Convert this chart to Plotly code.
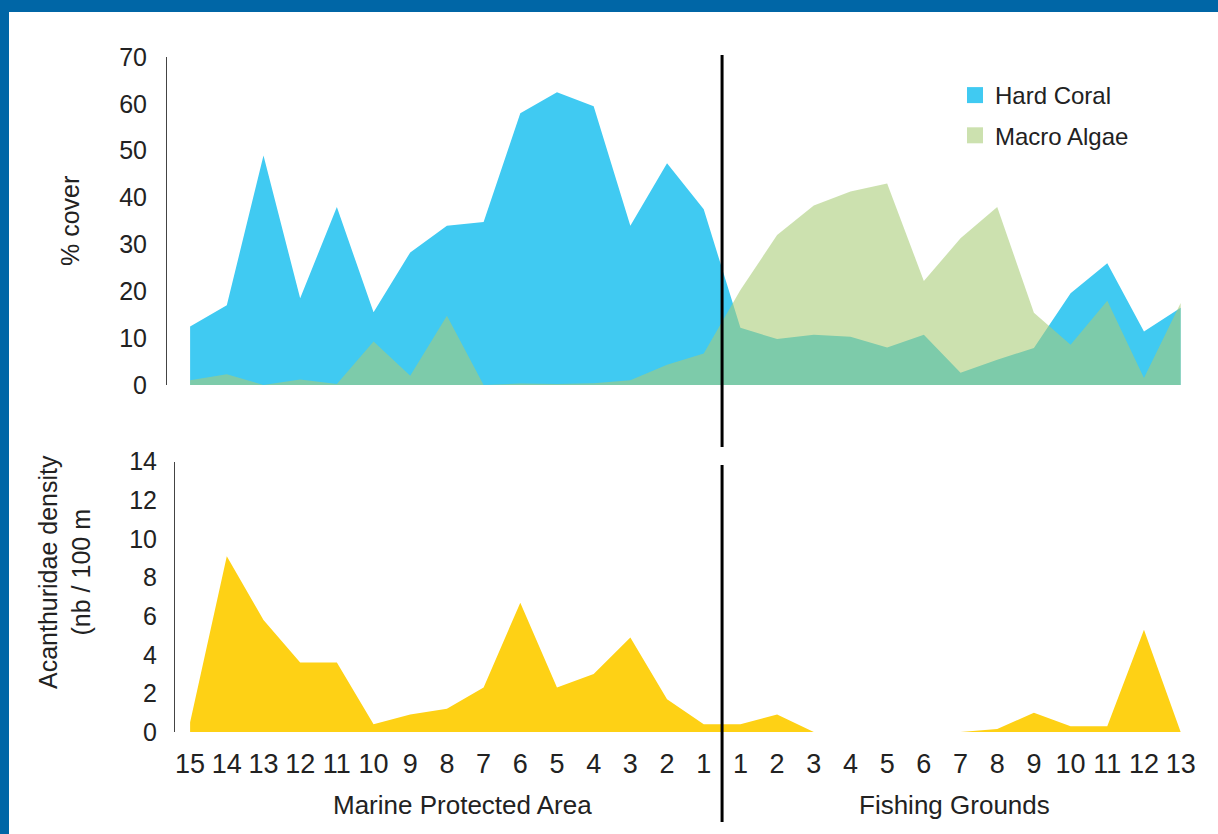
"""
Hard coral / macro algae cover and Acanthuridae density along the MPA -> fishing grounds transect
"""

import plotly.graph_objects as go

# sites: Marine Protected Area counted down to the boundary, then Fishing Grounds counted up
mpa_sites = ["15", "14", "13", "12", "11", "10", "9", "8", "7", "6", "5", "4", "3", "2", "1"]
fg_sites = ["1", "2", "3", "4", "5", "6", "7", "8", "9", "10", "11", "12", "13"]
site_labels = mpa_sites + fg_sites
site_pos = list(range(len(site_labels)))

hard_coral = [12.5, 17, 49, 18.5, 38, 15.5, 28.3, 34, 34.8, 58, 62.5, 59.5, 34, 47.3, 37.5,
              12.2, 9.8, 10.7, 10.3, 8, 10.7, 2.6, 5.4, 7.9, 19.6, 26, 11.4, 16.5]
macro_algae = [1, 2.3, 0, 1.2, 0.2, 9.3, 2, 14.8, 0, 0.3, 0.2, 0.4, 1, 4.3, 6.7,
               20.3, 32, 38.3, 41.3, 43, 22.2, 31.3, 38, 15.4, 8.6, 18, 1.5, 17.5]
acanthuridae = [0.5, 9.1, 5.8, 3.6, 3.6, 0.4, 0.9, 1.2, 2.3, 6.7, 2.3, 3.0, 4.9, 1.7, 0.4,
                0.4, 0.9, 0, 0, 0, 0, 0, 0.15, 1.0, 0.3, 0.3, 5.3, 0]

CORAL = "rgb(64,202,242)"
ALGAE = "rgba(168,204,119,0.59)"
ACANTH = "rgb(254,209,21)"
FRAME = "#0066a6"
FONT = "Liberation Sans, Arial, sans-serif"

W, H = 1218, 834
L, R, T, B = 167, 19, 57, 102
pw, ph = W - L - R, H - T - B


def px_x(v):
    return (v - L) / pw


def px_y(v):
    return (H - B - v) / ph


fig = go.Figure()

fig.add_trace(go.Scatter(x=site_pos, y=hard_coral, mode="none", fill="tozeroy",
                         fillcolor=CORAL, showlegend=False, xaxis="x", yaxis="y"))
fig.add_trace(go.Scatter(x=site_pos, y=macro_algae, mode="none", fill="tozeroy",
                         fillcolor=ALGAE, showlegend=False, xaxis="x", yaxis="y"))
fig.add_trace(go.Scatter(x=site_pos, y=acanthuridae, mode="none", fill="tozeroy",
                         fillcolor=ACANTH, showlegend=False, xaxis="x2", yaxis="y2"))

# legend entries with square swatches
for name, col, grp in [("Hard Coral", CORAL, "a"), ("Macro Algae", ALGAE, "b")]:
    fig.add_trace(go.Scatter(x=[None], y=[None], mode="markers", name=name, legendgroup=grp,
                             marker=dict(symbol="square", size=17, color=col),
                             xaxis="x", yaxis="y"))

xr = [-0.63, 27.5]
boundary = (len(mpa_sites) - 1 + len(mpa_sites)) / 2

fig.update_layout(
    width=W, height=H,
    paper_bgcolor="white", plot_bgcolor="white",
    font=dict(family=FONT, color="#222", size=25),
    margin=dict(l=L, r=R, t=T, b=B),
    xaxis=dict(domain=[0, 1], range=xr, anchor="y", showticklabels=False,
               showgrid=False, zeroline=False, showline=False, ticks=""),
    xaxis2=dict(domain=[0, 1], range=xr, anchor="y2", tickvals=site_pos, ticktext=site_labels,
                showgrid=False, zeroline=False, showline=False,
                ticks="outside", ticklen=8, tickcolor="rgba(0,0,0,0)",
                tickfont=dict(size=27, color="#222")),
    yaxis=dict(domain=[px_y(385), 1], range=[0, 70], dtick=10, anchor="x",
               showgrid=False, zeroline=False, showline=True, linecolor="#444", linewidth=1,
               ticks="outside", ticklen=14, tickcolor="rgba(0,0,0,0)",
               tickfont=dict(size=25, color="#222")),
    yaxis2=dict(domain=[0, px_y(461.7)], range=[0, 14], dtick=2, anchor="free",
                position=px_x(174),
                showgrid=False, zeroline=False, showline=True, linecolor="#444", linewidth=1,
                ticks="outside", ticklen=12, tickcolor="rgba(0,0,0,0)",
                tickfont=dict(size=25, color="#222")),
    legend=dict(x=px_x(955), y=px_y(73), xanchor="left", yanchor="top",
                bgcolor="rgba(0,0,0,0)", font=dict(size=24, color="#222"),
                tracegroupgap=6, itemsizing="trace"),
    showlegend=True,
)

# MPA / fishing grounds boundary
fig.add_shape(type="line", xref="x", yref="paper", x0=boundary, x1=boundary,
              y0=px_y(55), y1=px_y(447), line=dict(color="black", width=3))
fig.add_shape(type="line", xref="x", yref="paper", x0=boundary, x1=boundary,
              y0=px_y(465), y1=px_y(822), line=dict(color="black", width=3))

# blue frame, top and left
fig.add_shape(type="rect", xref="paper", yref="paper", x0=px_x(0), x1=px_x(W),
              y0=px_y(12), y1=px_y(0), fillcolor=FRAME, line_width=0, layer="above")
fig.add_shape(type="rect", xref="paper", yref="paper", x0=px_x(0), x1=px_x(9),
              y0=px_y(H), y1=px_y(0), fillcolor=FRAME, line_width=0, layer="above")

centered = dict(xref="paper", yref="paper", xanchor="center", yanchor="middle", showarrow=False)
fig.add_annotation(text="% cover", x=px_x(70), y=px_y(221), textangle=-90,
                   font=dict(size=25), **centered)
fig.add_annotation(text="Acanthuridae density<br>(nb / 100 m", x=px_x(64), y=px_y(572),
                   textangle=-90, font=dict(size=25), **centered)
fig.add_annotation(text="Marine Protected Area", x=px_x(462), y=px_y(805),
                   font=dict(size=26), **centered)
fig.add_annotation(text="Fishing Grounds", x=px_x(954), y=px_y(805),
                   font=dict(size=26), **centered)

fig.write_html("out.html", config={"displayModeBar": False},
               post_script="document.body.style.margin='0';")
